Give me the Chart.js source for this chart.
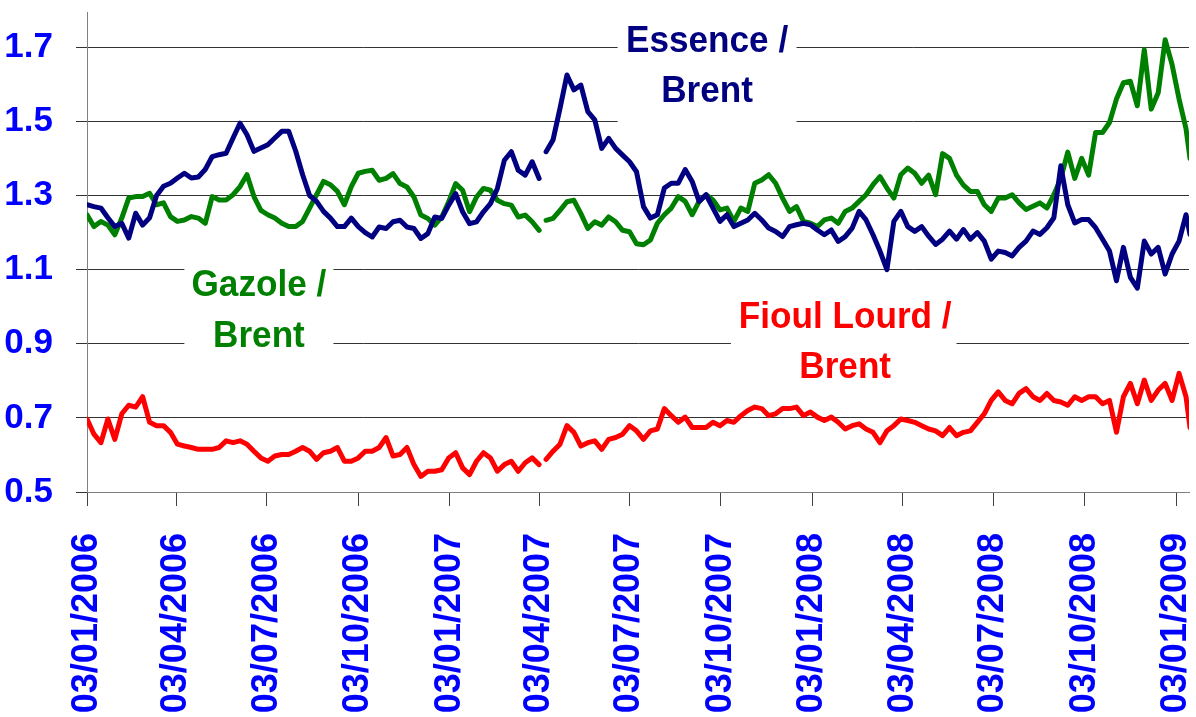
<!DOCTYPE html>
<html>
<head>
<meta charset="utf-8">
<script src="https://cdn.jsdelivr.net/npm/chart.js@4.4.1/dist/chart.umd.min.js"></script>
<style>
  html, body { margin: 0; padding: 0; background: #fff; }
  #wrap { width: 1196px; height: 717px; }
</style>
</head>
<body>
<div id="wrap"><canvas id="ratioChart"></canvas></div>
<script>
// days counted from 03/01/2006
const days = [
  0, 7, 14, 21, 28, 35, 42, 49, 56, 63,
  70, 77, 84, 91, 98, 105, 112, 119, 126, 133,
  140, 147, 154, 161, 168, 175, 182, 189, 196, 203,
  210, 217, 224, 231, 238, 245, 252, 259, 266, 273,
  280, 287, 294, 301, 308, 315, 322, 329, 336, 343,
  350, 357, 364, 371, 378, 385, 392, 399, 406, 413,
  420, 427, 434, 441, 448, 455, 458, 462, 469, 476, 483,
  490, 497, 504, 511, 518, 525, 532, 539, 546, 553,
  560, 567, 574, 581, 588, 595, 602, 609, 616, 623,
  630, 637, 644, 651, 658, 665, 672, 679, 686, 693,
  700, 707, 714, 721, 728, 735, 742, 749, 756, 763,
  770, 777, 784, 791, 798, 805, 812, 819, 826, 833,
  840, 847, 854, 861, 868, 875, 882, 889, 896, 903,
  910, 917, 924, 931, 938, 945, 952, 959, 966, 973,
  980, 987, 994, 1001, 1008, 1015, 1022, 1029, 1036, 1043,
  1050, 1057, 1064, 1071, 1078, 1085, 1092, 1099, 1106, 1110
];

const essence = [
  1.275, 1.27, 1.266, 1.24, 1.216, 1.225, 1.185, 1.252, 1.22, 1.24,
  1.30, 1.325, 1.333, 1.347, 1.36, 1.347, 1.35, 1.37, 1.405, 1.41,
  1.414, 1.455, 1.495, 1.464, 1.419, 1.428, 1.437, 1.455, 1.473, 1.473,
  1.42, 1.356, 1.30, 1.284, 1.257, 1.239, 1.216, 1.216, 1.239, 1.216,
  1.20, 1.188, 1.215, 1.211, 1.229, 1.233, 1.215, 1.211, 1.184, 1.197,
  1.242, 1.238, 1.274, 1.305, 1.256, 1.224, 1.229, 1.256, 1.278, 1.319,
  1.395, 1.418, 1.368, 1.355, 1.391, 1.346, null, 1.418, 1.45, 1.535, 1.625,
  1.585, 1.598, 1.526, 1.504, 1.427, 1.454, 1.427, 1.409, 1.391, 1.364,
  1.27, 1.239, 1.248, 1.32, 1.333, 1.333, 1.37, 1.338, 1.284, 1.302,
  1.266, 1.23, 1.248, 1.216, 1.225, 1.234, 1.252, 1.234, 1.212, 1.203,
  1.189, 1.216, 1.221, 1.225, 1.221, 1.207, 1.194, 1.207, 1.176, 1.189,
  1.212, 1.257, 1.234, 1.194, 1.15, 1.10, 1.23, 1.257, 1.216, 1.203,
  1.216, 1.19, 1.168, 1.182, 1.204, 1.182, 1.208, 1.182, 1.2, 1.177,
  1.128, 1.15, 1.146, 1.137, 1.16, 1.177, 1.204, 1.195, 1.213, 1.24,
  1.38, 1.275, 1.226, 1.235, 1.235, 1.213, 1.182, 1.15, 1.07, 1.16,
  1.079, 1.05, 1.177, 1.142, 1.16, 1.088, 1.142, 1.177, 1.248, 1.195
];

const gazole = [
  1.248, 1.216, 1.23, 1.22, 1.194, 1.239, 1.293, 1.297, 1.297, 1.306,
  1.275, 1.28, 1.243, 1.23, 1.234, 1.243, 1.239, 1.225, 1.297, 1.288,
  1.288, 1.302, 1.324, 1.356, 1.297, 1.26, 1.248, 1.239, 1.225, 1.216,
  1.216, 1.23, 1.266, 1.302, 1.338, 1.329, 1.311, 1.275, 1.324, 1.36,
  1.365, 1.368, 1.341, 1.346, 1.359, 1.332, 1.323, 1.296, 1.247, 1.238,
  1.22, 1.242, 1.283, 1.332, 1.314, 1.256, 1.296, 1.319, 1.314, 1.287,
  1.278, 1.274, 1.242, 1.247, 1.229, 1.206, null, 1.233, 1.238, 1.26, 1.283,
  1.287, 1.251, 1.211, 1.229, 1.22, 1.242, 1.229, 1.206, 1.202, 1.17,
  1.167, 1.18, 1.225, 1.248, 1.266, 1.297, 1.284, 1.248, 1.284, 1.302,
  1.288, 1.261, 1.266, 1.23, 1.266, 1.257, 1.333, 1.342, 1.356, 1.333,
  1.293, 1.257, 1.27, 1.23, 1.225, 1.216, 1.234, 1.239, 1.225, 1.257,
  1.266, 1.284, 1.302, 1.329, 1.351, 1.32, 1.293, 1.356, 1.374, 1.36,
  1.333, 1.355, 1.302, 1.413, 1.4, 1.355, 1.328, 1.311, 1.311, 1.275,
  1.257, 1.293, 1.293, 1.302, 1.28, 1.262, 1.271, 1.28, 1.266, 1.302,
  1.346, 1.417, 1.346, 1.4, 1.355, 1.47, 1.47, 1.497, 1.56, 1.604,
  1.608, 1.542, 1.693, 1.533, 1.577, 1.72, 1.653, 1.56, 1.48, 1.40
];

const fioul = [
  0.697, 0.656, 0.633, 0.697, 0.642, 0.711, 0.734, 0.729, 0.757, 0.688,
  0.679, 0.679, 0.661, 0.629, 0.624, 0.62, 0.615, 0.615, 0.615, 0.62,
  0.638, 0.633, 0.638, 0.629, 0.61, 0.592, 0.583, 0.597, 0.601, 0.601,
  0.61, 0.62, 0.61, 0.588, 0.606, 0.61, 0.62, 0.583, 0.583, 0.592,
  0.61, 0.61, 0.62, 0.647, 0.597, 0.601, 0.62, 0.574, 0.542, 0.556,
  0.556, 0.56, 0.592, 0.606, 0.565, 0.547, 0.583, 0.606, 0.592, 0.556,
  0.574, 0.583, 0.556, 0.579, 0.592, 0.574, null, 0.588, 0.61, 0.629, 0.679,
  0.661, 0.624, 0.633, 0.638, 0.615, 0.642, 0.647, 0.656, 0.679, 0.665,
  0.642, 0.665, 0.67, 0.725, 0.706, 0.688, 0.702, 0.674, 0.674, 0.674,
  0.688, 0.679, 0.693, 0.688, 0.706, 0.72, 0.729, 0.725, 0.706, 0.711,
  0.725, 0.725, 0.729, 0.706, 0.716, 0.702, 0.693, 0.702, 0.688, 0.67,
  0.679, 0.684, 0.67, 0.661, 0.633, 0.665, 0.679, 0.697, 0.693, 0.688,
  0.679, 0.67, 0.665, 0.652, 0.674, 0.652, 0.661, 0.665, 0.688, 0.711,
  0.747, 0.77, 0.747, 0.738, 0.766, 0.779, 0.757, 0.747, 0.766, 0.747,
  0.743, 0.734, 0.757, 0.747, 0.757, 0.757, 0.738, 0.747, 0.661, 0.757,
  0.793, 0.738, 0.802, 0.747, 0.775, 0.793, 0.747, 0.82, 0.757, 0.674
];

const tickDays = [0, 90, 181, 273, 365, 455, 546, 638, 730, 821, 912, 1004, 1096];
const tickLabels = ['03/01/2006', '03/04/2006', '03/07/2006', '03/10/2006',
  '03/01/2007', '03/04/2007', '03/07/2007', '03/10/2007',
  '03/01/2008', '03/04/2008', '03/07/2008', '03/10/2008', '03/01/2009'];
const yTicks = [0.5, 0.7, 0.9, 1.1, 1.3, 1.5, 1.7];

const FONT = '"Liberation Sans", Arial, sans-serif';

// in-chart series names, anchored in data units: centre day, baseline values, box [day0, day1, top, bottom]
const seriesLabels = [
  { lines: ['Essence /', 'Brent'], color: '#000080', x: 624, y: [1.688, 1.551], box: [534, 714, 1.79, 1.49] },
  { lines: ['Gazole /', 'Brent'], color: '#008000', x: 173, y: [1.030, 0.891], box: [98, 248, 1.131, 0.861] },
  { lines: ['Fioul Lourd /', 'Brent'], color: '#ff0000', x: 763, y: [0.943, 0.808], box: [648, 875, 1.045, 0.782] }
];

const labelPlugin = {
  id: 'seriesLabels',
  beforeDatasetsDraw(chart) {
    const { ctx, scales: { x, y } } = chart;
    ctx.save();
    seriesLabels.forEach(l => {
      const left = x.getPixelForValue(l.box[0]);
      const right = x.getPixelForValue(l.box[1]);
      const top = y.getPixelForValue(l.box[2]);
      const bottom = y.getPixelForValue(l.box[3]);
      ctx.fillStyle = '#ffffff';
      ctx.fillRect(left, top, right - left, bottom - top);
      ctx.fillStyle = l.color;
      ctx.font = 'bold 37px ' + FONT;
      ctx.textAlign = 'center';
      ctx.textBaseline = 'alphabetic';
      const cx = x.getPixelForValue(l.x);
      l.lines.forEach((t, i) => {
        ctx.save();
        ctx.translate(cx, y.getPixelForValue(l.y[i]));
        ctx.scale(0.95, 1);
        ctx.fillText(t, 0, 0);
        ctx.restore();
      });
    });
    ctx.restore();
  }
};

function series(values) {
  return days.map((d, i) => ({ x: d, y: values[i] }));
}

const lineStyle = { borderWidth: 5, pointRadius: 0, tension: 0, borderCapStyle: 'round', borderJoinStyle: 'round', spanGaps: false };

new Chart(document.getElementById('ratioChart'), {
  type: 'line',
  data: {
    datasets: [
      { label: 'Essence / Brent', data: series(essence), borderColor: '#000080', ...lineStyle },
      { label: 'Gazole / Brent', data: series(gazole), borderColor: '#008000', ...lineStyle },
      { label: 'Fioul Lourd / Brent', data: series(fioul), borderColor: '#ff0000', ...lineStyle }
    ]
  },
  options: {
    responsive: true,
    maintainAspectRatio: false,
    animation: false,
    layout: { padding: { top: 12, right: 7, left: 0, bottom: 0 } },
    plugins: { legend: { display: false }, tooltip: { enabled: false } },
    scales: {
      x: {
        type: 'linear',
        min: 0,
        max: 1109,
        afterBuildTicks: s => { s.ticks = tickDays.map(v => ({ value: v })); },
        afterFit: s => { s.height = 225; s.paddingLeft = 0; s.paddingRight = 0; },
        ticks: {
          autoSkip: false,
          minRotation: 90,
          maxRotation: 90,
          padding: 27,
          color: '#0000ff',
          font: { family: FONT, size: 36, weight: 'bold' },
          callback: (v, i) => tickLabels[i]
        },
        grid: { drawOnChartArea: false, drawTicks: true, tickLength: 14, color: '#404040' },
        border: { color: '#808080', width: 1 }
      },
      y: {
        min: 0.5,
        max: 1.795,
        afterBuildTicks: s => { s.ticks = yTicks.map(v => ({ value: v })); },
        afterFit: s => { s.width = 87; s.paddingTop = 0; s.paddingBottom = 0; },
        ticks: {
          padding: 23,
          color: '#0000ff',
          font: { family: FONT, size: 35, weight: 'bold' },
          callback: v => v.toFixed(1)
        },
        grid: { color: '#333333', lineWidth: 1, tickLength: 11 },
        border: { color: '#808080', width: 1 }
      }
    }
  },
  plugins: [labelPlugin]
});
</script>
</body>
</html>
